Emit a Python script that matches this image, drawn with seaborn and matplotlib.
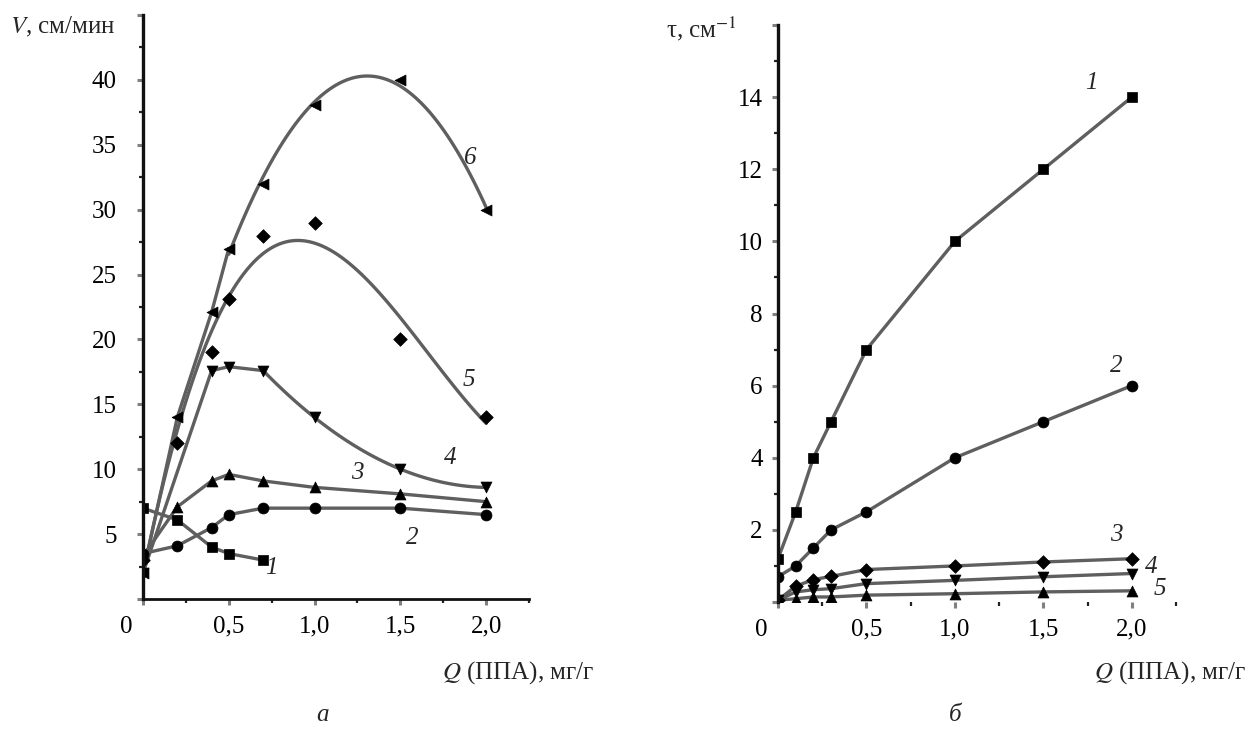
import numpy as np
import pandas as pd
import matplotlib
matplotlib.use("Agg")
import matplotlib.pyplot as plt
import matplotlib.transforms as mtransforms
from matplotlib.ticker import MultipleLocator, FixedLocator
import seaborn as sns

# ---------------- data: panel a (V, cm/min) ----------------
q_a = [0.0, 0.2, 0.4, 0.5, 0.7, 1.0, 1.5, 2.0]
v1 = [7.0, 6.1, 4.0, 3.5, 3.0]                      # curve 1 (x = q_a[:5])
v2 = [3.5, 4.1, 5.5, 6.5, 7.0, 7.0, 7.0, 6.5]       # curve 2
v3 = [3.3, 7.1, 9.1, 9.6, 9.1, 8.6, 8.1, 7.5]       # curve 3
q_a4 = [0.0, 0.4, 0.5, 0.7, 1.0, 1.5, 2.0]
v4 = [2.0, 17.6, 17.9, 17.6, 14.0, 10.0, 8.6]       # curve 4
v5 = [3.0, 12.0, 19.0, 23.1, 28.0, 29.0, 20.0, 14.0]  # curve 5
v6 = [2.0, 14.0, 22.1, 27.0, 32.0, 38.1, 40.0, 30.0]  # curve 6

# ---------------- data: panel b (tau, cm^-1) ----------------
q_b = [0.0, 0.1, 0.2, 0.3, 0.5, 1.0, 1.5, 2.0]
t1 = [1.2, 2.5, 4.0, 5.0, 7.0, 10.0, 12.0, 14.0]
t2 = [0.7, 1.0, 1.5, 2.0, 2.5, 4.0, 5.0, 6.0]
t3 = [0.05, 0.44, 0.62, 0.71, 0.90, 1.00, 1.11, 1.20]
t4 = [0.05, 0.28, 0.34, 0.37, 0.51, 0.60, 0.70, 0.79]
t5 = [0.05, 0.09, 0.14, 0.14, 0.19, 0.23, 0.28, 0.31]

x_ticks = [0.5, 1.0, 1.5, 2.0]
x_ticklabels = ["0,5", "1,0", "1,5", "2,0"]
ya_ticks = [5, 10, 15, 20, 25, 30, 35, 40]
yb_ticks = [2, 4, 6, 8, 10, 12, 14]

sns.set_theme(style="white")
plt.rcParams["font.family"] = ["Liberation Serif", "DejaVu Serif"]
plt.rcParams["mathtext.fontset"] = "stix"

FS = 18
LINE = "#5f5f5f"
LW = 2.4
MS = 62

fig = plt.figure(figsize=(12.48, 7.29), dpi=100)
axa = fig.add_axes([143/1248, 1-599/729, (529-143)/1248, (599-15)/729])
axb = fig.add_axes([778/1248, 1-602/729, (1176-778)/1248, (602-25)/729])


def straight(ax, x, y):
    sns.lineplot(x=x, y=y, ax=ax, color=LINE, lw=LW, estimator=None, sort=True)


def fitted(ax, x, y, order):
    sns.regplot(x=np.array(x), y=np.array(y), order=order, ci=None, scatter=False,
                truncate=True, ax=ax, line_kws=dict(color=LINE, lw=LW))


def marks(ax, x, y, m, s=MS):
    sns.scatterplot(x=x, y=y, ax=ax, marker=m, s=s, color="black",
                    edgecolor="black", linewidth=0.5, zorder=5, clip_on=True)


# ---- panel a ----
straight(axa, q_a[:5], v1)
straight(axa, q_a, v2)
straight(axa, q_a, v3)
straight(axa, q_a4[:4], v4[:4])
fitted(axa, q_a4[3:], v4[3:], 2)
fitted(axa, q_a, v5, 3)
straight(axa, q_a[:4], v6[:4])
fitted(axa, q_a[3:], v6[3:], 2)

marks(axa, q_a[:5], v1, "s")
marks(axa, q_a, v2, "o")
marks(axa, q_a, v3, "^")
marks(axa, q_a4, v4, "v")
marks(axa, q_a, v5, "D", 48)
marks(axa, q_a, v6, "<")

for lab, (xx, yy) in zip(["1", "2", "3", "4", "5", "6"],
                         [(0.75, 2.4), (1.57, 4.7), (1.25, 9.7),
                          (1.79, 10.9), (1.90, 16.9), (1.91, 34.0)]):
    axa.text(xx, yy, lab, fontsize=FS, fontstyle="italic", ha="center", va="center")

# ---- panel b ----
for yv in [t1, t2, t3, t4, t5]:
    straight(axb, q_b, yv)
marks(axb, q_b, t1, "s")
marks(axb, q_b, t2, "o")
marks(axb, q_b, t3, "D", 48)
marks(axb, q_b, t4, "v")
marks(axb, q_b, t5, "^")

for lab, (xx, yy) in zip(["1", "2", "3", "4", "5"],
                         [(1.77, 14.4), (1.91, 6.54), (1.91, 1.86),
                          (2.11, 0.97), (2.16, 0.37)]):
    axb.text(xx, yy, lab, fontsize=FS, fontstyle="italic", ha="center", va="center")

# ---- axes styling ----
def style(ax, ymax, yticks, yminor, ypad, bottom_visible):
    ax.set_xlim(0, 2.25)
    ax.set_ylim(0, ymax)
    ax.set_xlabel("")
    ax.set_ylabel("")
    for s in ["top", "right"]:
        ax.spines[s].set_visible(False)
    ax.spines["left"].set_linewidth(2.4)
    ax.spines["left"].set_color("#111111")
    ax.spines["bottom"].set_linewidth(2.0)
    ax.spines["bottom"].set_color("#111111")
    ax.spines["bottom"].set_visible(bottom_visible)
    ax.spines["left"].set_zorder(10)
    ax.xaxis.set_major_locator(FixedLocator([0.0] + x_ticks))
    ax.set_xticklabels(["0"] + x_ticklabels)
    ax.xaxis.set_minor_locator(FixedLocator([0.25, 0.75, 1.25, 1.75, 2.25]))
    ax.yaxis.set_major_locator(FixedLocator([0] + yticks + [ymax]))
    ax.set_yticklabels([""] + [str(t) for t in yticks] + [""])
    ax.yaxis.set_minor_locator(MultipleLocator(yminor))
    ax.tick_params(axis="both", which="major", direction="out", length=4, width=2.2,
                   color="#808080", labelsize=FS, labelcolor="black",
                   bottom=True, left=True)
    ax.tick_params(axis="x", which="major", pad=8)
    ax.tick_params(axis="y", which="major", pad=ypad)
    ax.tick_params(axis="both", which="minor", direction="out", length=3, width=1.6,
                   color="#222222", bottom=True, left=True)
    ax.set_facecolor("white")
    # shift the "0" origin label to the left of the corner
    off = mtransforms.ScaledTranslation(-17/100, 0, fig.dpi_scale_trans)
    lbl = ax.get_xticklabels()[0]
    lbl.set_transform(lbl.get_transform() + off)


style(axa, 45, ya_ticks, 2.5, 15, True)
style(axb, 16, yb_ticks, 1, 7, False)

fig.text(10/1248, 1-27/729, "$V$, см/мин", fontsize=FS, ha="left", va="center")
fig.text(737/1248, 1-29/729, "τ, см$^{-1}$", fontsize=FS, ha="right", va="center")
fig.text(594/1248, 1-673/729, "$Q$ (ППА), мг/г", fontsize=FS, ha="right", va="center")
fig.text(1246/1248, 1-673/729, "$Q$ (ППА), мг/г", fontsize=FS, ha="right", va="center")
fig.text(322/1248, 1-715/729, "а", fontsize=FS, fontstyle="italic", ha="center", va="center")
fig.text(955/1248, 1-715/729, "б", fontsize=FS, fontstyle="italic", ha="center", va="center")

fig.savefig("out.png", dpi=100, facecolor="white")
